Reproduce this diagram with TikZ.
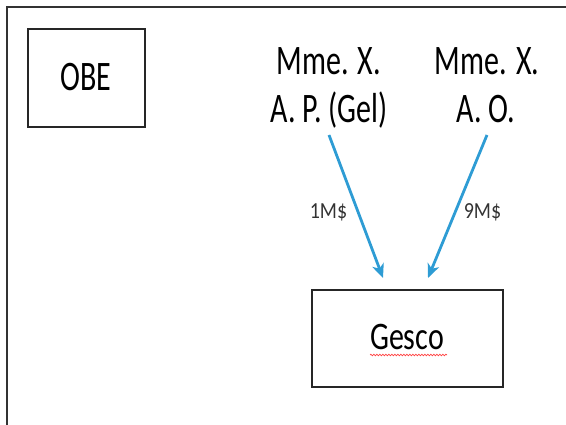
\documentclass[tikz,border=0pt]{standalone}
\usepackage{fontspec}
\setmainfont{Carlito}
\usepackage{graphicx}
\usetikzlibrary{arrows.meta,decorations.pathmorphing}
\definecolor{arrowblue}{HTML}{2E9CD4}
\newcommand\tallt[2][1.4]{\scalebox{1}[#1]{#2}}
\tikzset{
  box/.style={draw=black!85, line width=2.2pt, inner sep=0pt},
  bigtext/.style={font=\fontsize{30}{30}\selectfont, inner sep=0pt},
  smalltext/.style={font=\fontsize{20}{20}\selectfont, inner sep=0pt, text=black!80},
  flow/.style={draw=arrowblue, line width=2.8pt, -{Stealth[length=14pt,width=12pt,inset=4pt]}},
}
\begin{document}
\begin{tikzpicture}[x=1pt,y=1pt]
\useasboundingbox (0,0) rectangle (566,-425);
\begin{scope}
\clip (0,0) rectangle (566,-425);
\draw[black!80, line width=1.8pt] (7,-7) rectangle (580,-440);
\end{scope}
% boxes
\node[box, minimum width=117pt, minimum height=98pt] (obe) at (86.5,-78) {};
\node[bigtext] (obetext) at (86,-77) {\tallt[1.4]{OBE}};
\node[box, minimum width=191pt, minimum height=97pt] (gesco) at (407.5,-338.5) {};
\node[bigtext, anchor=base] (gescotext) at (407,-349) {\tallt[1.3]{Gesco}};
\draw[red!75, line width=0.7pt, decorate, decoration={snake, amplitude=0.8pt, segment length=3pt}] (370,-355) -- (447,-355);
% people
\node[bigtext, anchor=base] (p1a) at (329,-75) {\tallt[1.4]{Mme. X.}};
\node[bigtext, anchor=base] (p1b) at (329,-123) {\tallt[1.4]{A. P. (Gel)}};
\node[bigtext, anchor=base] (p2a) at (487,-75) {\tallt[1.4]{Mme. X.}};
\node[bigtext, anchor=base] (p2b) at (486,-123) {\tallt[1.4]{A. O.}};
% arrows
\coordinate (s1) at (329,-135);
\coordinate (e1) at (383,-278);
\coordinate (s2) at (487,-135);
\coordinate (e2) at (428,-278);
\draw[flow] (s1) -- (e1);
\draw[flow] (s2) -- (e2);
\node[smalltext, anchor=base] (l1) at (328.5,-219) {\tallt[1.15]{1M\$}};
\node[smalltext, anchor=base] (l2) at (482.5,-219) {\tallt[1.15]{9M\$}};
\end{tikzpicture}
\end{document}
